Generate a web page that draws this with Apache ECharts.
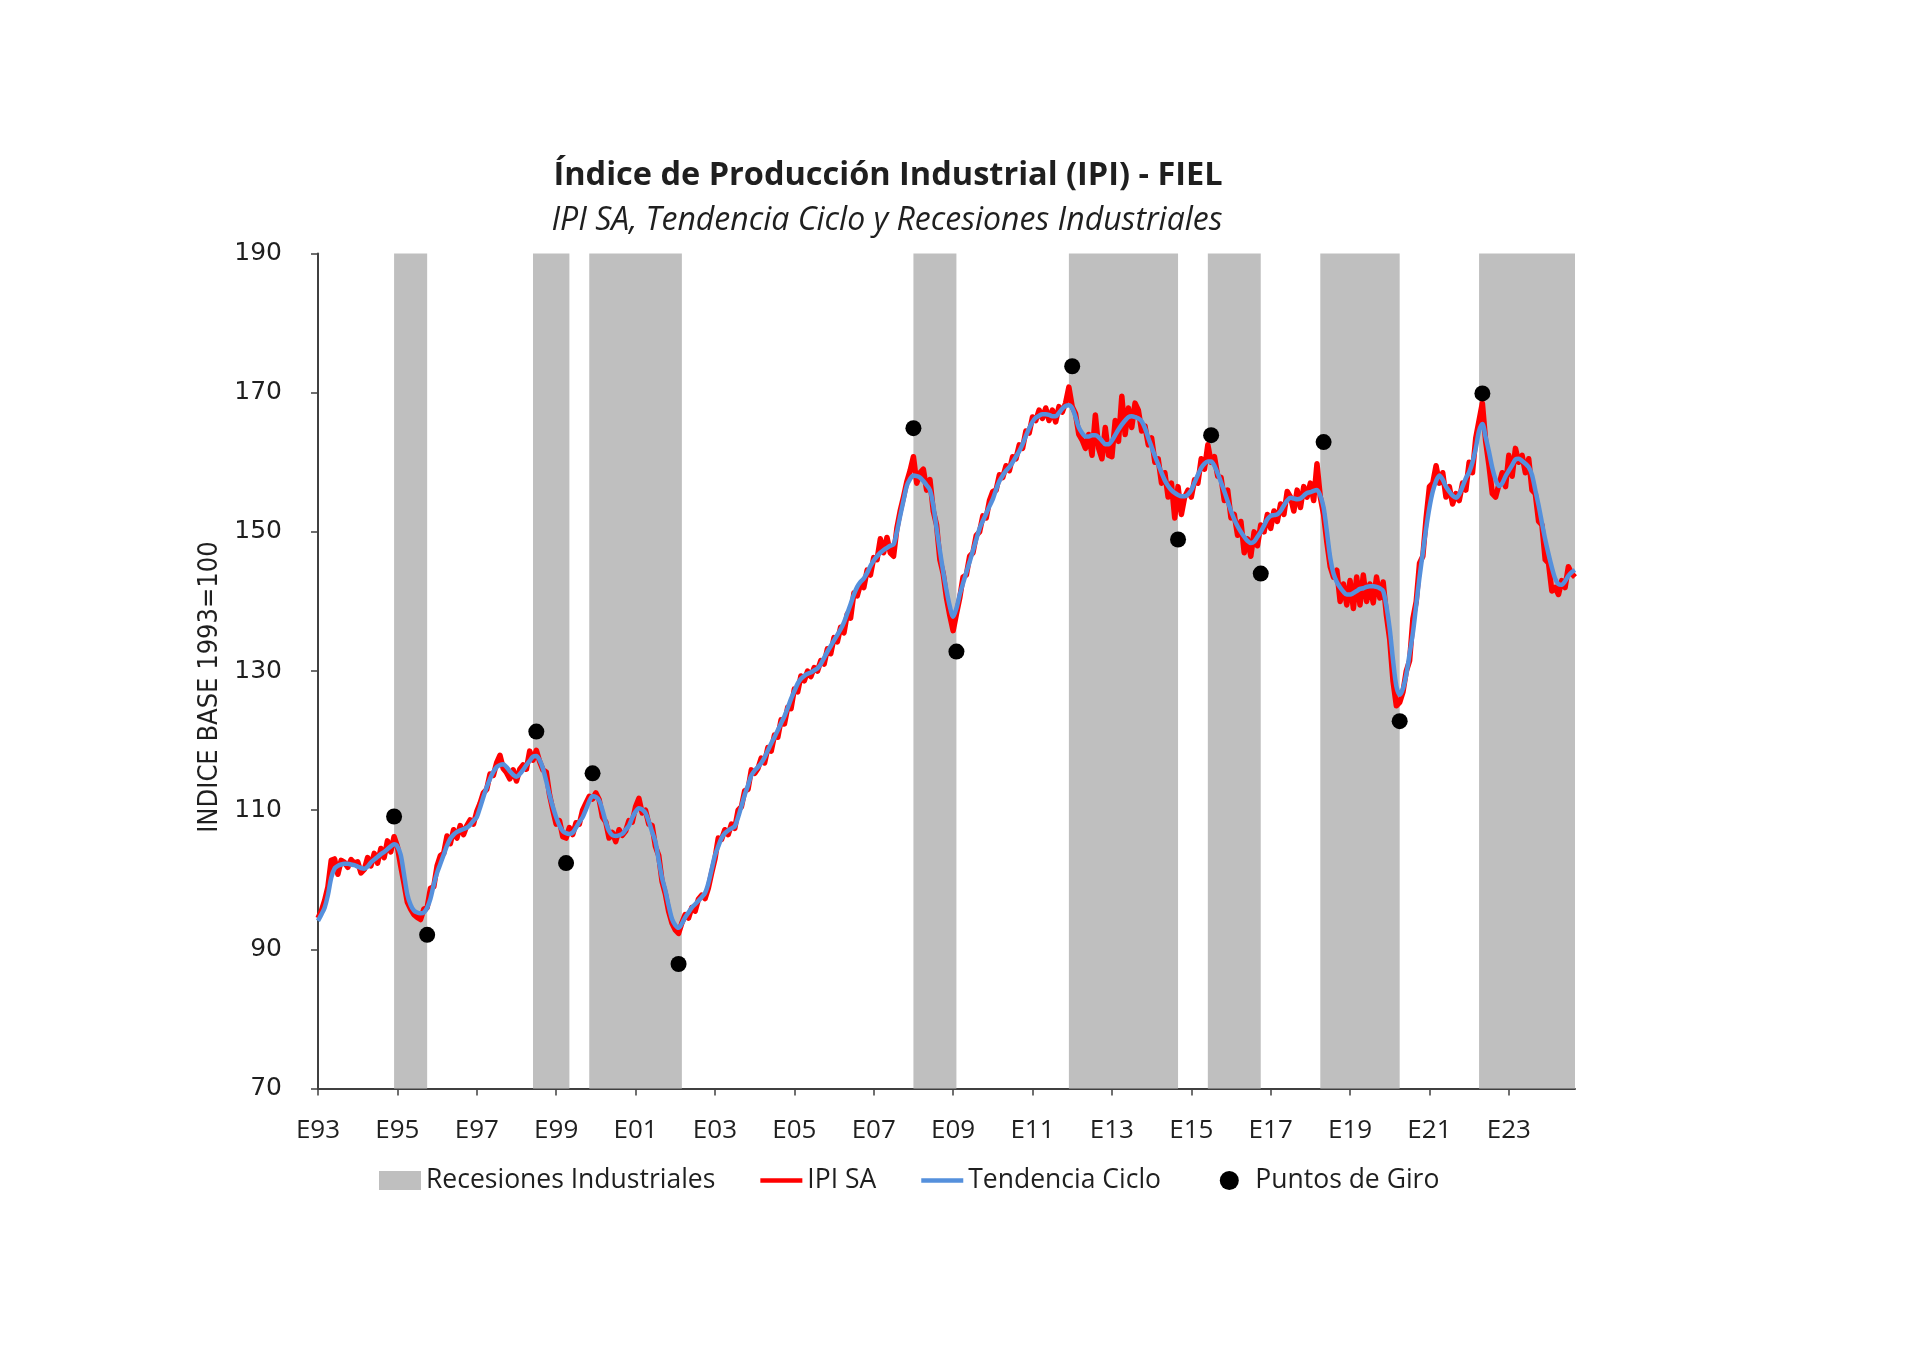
<!DOCTYPE html>
<html>
<head>
<meta charset="utf-8">
<script src="https://cdn.jsdelivr.net/npm/echarts@6/dist/echarts.min.js"></script>
<style>
html,body{margin:0;padding:0;background:#ffffff;}
#chart{width:1920px;height:1368px;}
</style>
</head>
<body>
<div id="chart"></div>
<script>
// ---- Data ----
const firstYear = 1993;
const monthCodes = ['E','F','M','A','M','J','J','A','S','O','N','D'];
const nMonths = 381; // Jan 1993 .. Sep 2024

// IPI SA (seasonally adjusted), monthly, one row per year
const ipiSA = [
  94.5, 95.5, 97.0, 99.0, 102.8, 103.0, 100.8, 102.8, 102.5, 101.8, 102.9, 102.4,
  102.6, 101.0, 101.5, 103.2, 102.0, 103.8, 102.4, 104.5, 103.2, 105.6, 104.0, 106.2,
  104.8, 102.0, 99.5, 96.8, 95.8, 95.0, 94.6, 94.3, 95.8, 96.0, 98.8, 99.0,
  102.0, 103.5, 103.8, 106.3, 105.2, 107.2, 106.0, 107.8, 106.5, 107.8, 108.6, 108.0,
  109.8, 111.0, 112.5, 113.0, 115.2, 115.0, 116.8, 117.9, 116.0, 115.4, 114.5, 115.8,
  114.2, 115.9, 116.5, 115.9, 118.5, 117.2, 118.6, 117.0, 115.8, 115.5, 112.2, 110.0,
  108.0, 108.5, 106.2, 106.0, 107.5, 106.5, 108.2, 108.0, 110.0, 111.0, 112.0, 111.6,
  112.5, 111.5, 109.0, 108.3, 106.0, 106.8, 105.5, 107.2, 106.4, 107.0, 108.5, 108.3,
  110.5, 111.7, 109.6, 110.0, 108.0, 107.8, 104.8, 103.5, 99.8, 98.0, 95.5, 93.8,
  92.8, 92.3, 93.8, 95.0, 94.5, 96.0, 95.5, 97.2, 97.8, 97.3, 98.8, 101.0,
  103.0, 106.0, 105.8, 107.2, 106.5, 108.0, 107.4, 110.0, 110.5, 112.8, 113.0, 115.8,
  115.3, 116.0, 117.5, 116.8, 119.0, 118.5, 120.8, 120.5, 123.0, 122.4, 124.8, 124.6,
  127.4, 127.0, 129.3, 128.6, 130.0, 129.2, 130.5, 130.0, 131.5, 131.0, 133.2, 132.5,
  134.8, 134.2, 136.3, 135.5, 138.2, 137.6, 141.2, 140.8, 142.5, 142.0, 144.5, 143.8,
  146.3, 146.0, 149.0, 147.0, 149.2, 147.0, 146.5, 150.5, 153.0, 155.0, 157.2, 158.8,
  160.8, 157.0, 158.5, 159.0, 156.0, 157.5, 153.0, 151.0, 146.0, 144.0, 140.5, 138.0,
  135.8, 138.2, 140.5, 143.5, 143.8, 146.5, 147.0, 149.5, 150.0, 152.3, 152.0, 154.5,
  155.8, 156.0, 158.2, 157.8, 159.5, 158.8, 160.8, 160.5, 162.5, 162.0, 164.5, 164.2,
  166.5, 166.0, 167.5, 166.3, 167.8, 166.0, 167.5, 165.8, 168.0, 167.2, 168.5, 170.8,
  168.0, 167.0, 164.0, 163.2, 162.0, 164.0, 161.0, 166.8, 162.0, 160.5, 165.0, 161.0,
  160.8, 166.0, 163.0, 169.5, 164.0, 167.8, 165.0, 168.5, 167.5, 164.5, 165.2, 162.5,
  163.5, 160.0, 160.5, 157.0, 158.5, 155.0, 157.0, 152.0, 156.5, 152.5, 155.0, 156.0,
  155.0, 157.5, 157.0, 160.5, 159.0, 162.5, 160.0, 160.8, 158.0, 157.8, 154.5, 156.0,
  152.0, 152.5, 149.5, 151.5, 147.0, 149.0, 146.5, 150.0, 148.0, 151.0, 150.0, 152.5,
  150.5, 153.0, 151.5, 154.0, 152.5, 155.8, 155.0, 153.0, 156.0, 153.5, 156.5, 155.0,
  157.0, 154.5, 159.8, 155.0, 152.5, 148.5, 145.0, 143.5, 144.5, 140.0, 142.5, 139.5,
  143.0, 139.0, 143.5, 139.5, 143.8, 140.0, 142.5, 139.8, 143.5, 140.5, 142.8, 138.0,
  134.5, 128.5, 125.0, 125.5, 127.0, 130.0, 131.5, 137.5, 140.0, 145.5, 146.5, 152.0,
  156.5, 157.0, 159.5, 157.0, 158.5, 155.0, 156.5, 154.0, 155.5, 154.5, 157.0, 156.0,
  160.0, 158.5, 163.5, 166.0, 168.5, 163.0, 159.5, 155.5, 155.0, 156.8, 158.5, 156.5,
  161.0, 158.0, 162.0, 160.0, 161.0, 158.5, 160.5, 156.0, 155.5, 151.5, 151.0, 146.0,
  145.5, 141.5, 142.0, 141.0, 143.0, 142.0, 145.0, 144.0, 143.5
];

// Tendencia Ciclo (trend-cycle), monthly, one row per year
const tendenciaCiclo = [
  94.1, 95.0, 96.0, 97.8, 100.3, 101.6, 102.0, 102.2, 102.3, 102.3, 102.2, 102.1,
  101.9, 101.7, 101.6, 101.9, 102.5, 102.9, 103.3, 103.7, 104.0, 104.4, 104.8, 105.1,
  104.8, 103.6, 100.8, 97.9, 96.4, 95.6, 95.3, 95.2, 95.3, 96.0, 97.3, 99.3,
  101.0, 102.3, 103.6, 104.9, 105.9, 106.5, 106.9, 107.1, 107.3, 107.5, 107.9, 108.5,
  109.0, 110.4, 111.9, 113.3, 114.5, 115.5, 116.2, 116.5, 116.6, 116.2, 115.6, 115.1,
  114.8, 115.2, 115.8, 116.5, 117.1, 117.7, 117.8, 117.2, 116.0, 114.2, 112.2, 110.5,
  109.0, 107.8, 107.0, 106.7, 106.6, 106.8, 107.5, 108.3, 109.0, 110.1, 111.3, 112.0,
  111.9, 111.4, 110.0, 108.3, 107.0, 106.4, 106.3, 106.4, 106.6, 107.2, 107.8, 108.9,
  109.8, 110.3, 110.1, 109.6, 108.4, 106.9, 105.5, 102.8, 100.3, 98.5, 96.3, 94.4,
  93.5, 93.1, 93.7, 94.6, 95.3, 96.0, 96.5, 97.0, 97.5, 98.1, 99.5, 101.5,
  103.5, 104.8, 106.0, 106.7, 107.1, 107.4, 107.7, 109.0, 110.6, 112.2, 113.6, 115.0,
  115.7, 116.2, 116.8, 117.6, 118.6, 119.6, 120.5, 121.5, 122.5, 123.5, 124.7, 126.0,
  127.1, 128.2, 128.9, 129.3, 129.6, 129.8, 130.1, 130.4, 131.0, 131.9, 132.8, 133.6,
  134.4, 135.2, 136.0, 137.0, 138.3, 139.6, 141.0, 142.1, 142.8, 143.3, 144.1, 145.1,
  145.9, 146.5, 147.0, 147.4, 147.7, 148.0, 148.2, 150.0, 152.3, 154.5, 156.6, 157.6,
  158.1, 158.0, 157.8, 157.3, 156.7, 156.0, 153.8, 150.5, 147.3, 144.3, 141.6, 139.3,
  137.8, 139.0, 141.0, 142.6, 144.2, 145.7, 147.3, 148.9, 150.5, 151.6, 152.6, 153.7,
  154.7, 156.1, 157.3, 158.1, 158.8, 159.3, 160.0, 160.8, 161.6, 162.6, 163.8, 164.9,
  165.8, 166.4, 166.7, 166.9, 166.9, 166.8, 166.6, 166.6, 167.1, 167.7, 168.1, 168.2,
  167.8, 166.5, 165.0, 164.2, 163.7, 163.7, 163.9, 163.9, 163.6, 163.1, 162.6, 162.6,
  163.1, 163.9, 164.7, 165.4, 166.0, 166.5, 166.6, 166.5, 166.3, 165.9, 164.9, 163.5,
  162.2, 160.9, 159.7, 158.5, 157.4, 156.6, 156.0, 155.6, 155.3, 155.1, 155.1, 155.4,
  156.0, 157.1, 158.2, 159.2, 159.8, 160.1, 160.1, 159.5, 158.4, 157.1, 155.8, 154.4,
  153.0, 151.8, 150.8, 150.0, 149.3, 148.7, 148.4, 148.6, 149.3, 150.0, 150.9, 151.8,
  152.3, 152.4, 152.5, 153.0, 153.8, 154.5, 154.9, 154.8, 154.7, 154.8, 155.2, 155.6,
  155.7, 155.9, 156.0, 155.2, 153.5, 150.0, 146.3, 144.0, 142.8, 142.0, 141.4, 141.0,
  141.0, 141.2, 141.5, 141.8, 141.9, 142.1, 142.2, 142.2, 142.1, 141.9, 141.5, 139.3,
  136.0, 131.5, 127.8, 126.6, 127.5, 129.5, 132.5, 135.5, 139.5, 143.5, 147.0, 150.5,
  153.5, 155.8, 157.3, 158.1, 157.5, 156.5, 155.8, 155.2, 154.9, 155.4, 156.5, 157.7,
  158.6, 160.0, 162.0, 164.5, 165.5, 163.6, 161.5, 159.2, 157.5, 156.6, 157.0, 158.0,
  158.8, 159.6, 160.4, 160.5, 160.2, 159.8, 159.3, 158.2, 156.0, 153.8, 151.3, 148.9,
  146.8, 144.9, 143.3, 142.5, 142.4, 142.9, 143.7, 144.2, 144.5
];

// Recesiones industriales: [start month index, end month index] (0 = Jan 1993)
const recesionStart = [23, 65, 82, 180, 227, 269, 303, 351];
const recesionEnd   = [33, 76, 110, 193, 260, 285, 327, 380];

// Puntos de giro: month index and plotted value
const giroMonth = [23, 33, 66, 75, 83, 109, 180, 193, 228, 260, 270, 285, 304, 327, 352];
const giroValue = [109.1, 92.1, 121.3, 102.4, 115.3, 87.9, 164.9, 132.8, 173.8, 148.9, 163.9, 144.0, 162.9, 122.8, 169.9];

// y axis ticks
const yMin = 70, yMax = 190, yStep = 20;

// ---- Build categories ----
const categories = [];
for (let i = 0; i < nMonths; i++) {
  const y = firstYear + Math.floor(i / 12);
  const mo = i % 12;
  categories.push(y + '-' + String(mo + 1).padStart(2, '0'));
}
function tickLabel(i) {
  const y = firstYear + Math.floor(i / 12);
  return monthCodes[i % 12] + String(y % 100).padStart(2, '0');
}

const markAreaData = recesionStart.map((s, k) => [{ xAxis: s }, { xAxis: recesionEnd[k] }]);
const giroData = giroMonth.map((m, k) => [m, giroValue[k]]);

const RED = '#FF0000';
const BLUE = '#5590DC';
const GRAY = '#BFBFBF';
const TXT = '#1f1f1f';
const lineIcon = 'path://M0,0 L46,0 L46,5 L0,5 Z';

const chart = echarts.init(document.getElementById('chart'), null, { renderer: 'canvas' });

const option = {
  backgroundColor: '#ffffff',
  animation: false,
  title: [
    {
      text: 'Índice de Producción Industrial (IPI) - FIEL',
      left: 883, top: 154, textAlign: 'center',
      textStyle: { fontFamily: '"Open Sans"', fontWeight: 'bold', fontSize: 32.5, color: TXT }
    },
    {
      text: 'IPI SA, Tendencia Ciclo y Recesiones Industriales',
      left: 882, top: 200, textAlign: 'center',
      textStyle: { fontFamily: '"Open Sans"', fontStyle: 'italic', fontWeight: 'normal', fontSize: 32, color: TXT }
    }
  ],
  legend: {
    left: 374, top: 1162,
    itemWidth: 42, itemHeight: 19, itemGap: 45,
    textStyle: { fontFamily: '"Open Sans"', fontSize: 26.5, color: TXT },
    formatter: function (name) {
      return name === 'Tendencia Ciclo' ? name + '\u00A0\u00A0' : name;
    },
    data: [
      { name: 'Recesiones Industriales', icon: 'rect' },
      { name: 'IPI SA', icon: lineIcon },
      { name: 'Tendencia Ciclo', icon: lineIcon },
      { name: 'Puntos de Giro', icon: 'circle' }
    ]
  },
  grid: { left: 318, right: 345, top: 253.5, bottom: 279.4, containLabel: false },
  xAxis: {
    type: 'category',
    data: categories,
    boundaryGap: false,
    axisLine: { lineStyle: { color: '#404040', width: 2 } },
    axisTick: {
      show: true, length: 7, inside: false,
      interval: function (i) { return i % 24 === 0; },
      lineStyle: { color: '#404040', width: 1.5 }
    },
    axisLabel: {
      interval: function (i) { return i % 24 === 0; },
      formatter: function (v, i) { return tickLabel(i); },
      margin: 29,
      fontFamily: '"Open Sans"', fontSize: 26, color: TXT
    },
    splitLine: { show: false }
  },
  yAxis: {
    type: 'value',
    min: yMin, max: yMax, interval: yStep,
    name: 'INDICE BASE 1993=100',
    nameLocation: 'middle',
    nameRotate: 90,
    nameGap: 78,
    nameTextStyle: {
      fontFamily: '"Liberation Sans Narrow", "DejaVu Sans Condensed", sans-serif',
      fontSize: 27, color: TXT, padding: [0, 32, 0, 0]
    },
    axisLine: { show: true, lineStyle: { color: '#404040', width: 2 } },
    axisTick: { show: true, length: 7, lineStyle: { color: '#404040', width: 1.5 } },
    axisLabel: { margin: 36, fontFamily: '"DejaVu Sans", Verdana, sans-serif', fontSize: 25, color: TXT },
    splitLine: { show: false }
  },
  series: [
    {
      name: 'Recesiones Industriales',
      type: 'line',
      data: [],
      symbol: 'none',
      itemStyle: { color: GRAY },
      lineStyle: { color: GRAY },
      z: 1,
      markArea: {
        silent: true,
        itemStyle: { color: GRAY, opacity: 1 },
        data: markAreaData
      }
    },
    {
      name: 'IPI SA',
      type: 'line',
      data: ipiSA,
      symbol: 'none',
      itemStyle: { color: RED },
      lineStyle: { color: RED, width: 5.5, join: 'round' },
      z: 3
    },
    {
      name: 'Tendencia Ciclo',
      type: 'line',
      data: tendenciaCiclo,
      symbol: 'none',
      smooth: 0.3,
      itemStyle: { color: BLUE },
      lineStyle: { color: BLUE, width: 4.5 },
      z: 4
    },
    {
      name: 'Puntos de Giro',
      type: 'scatter',
      data: giroData,
      symbol: 'circle',
      symbolSize: 16,
      itemStyle: { color: '#000000', opacity: 1 },
      z: 5
    }
  ]
};
chart.setOption(option);
</script>
</body>
</html>
